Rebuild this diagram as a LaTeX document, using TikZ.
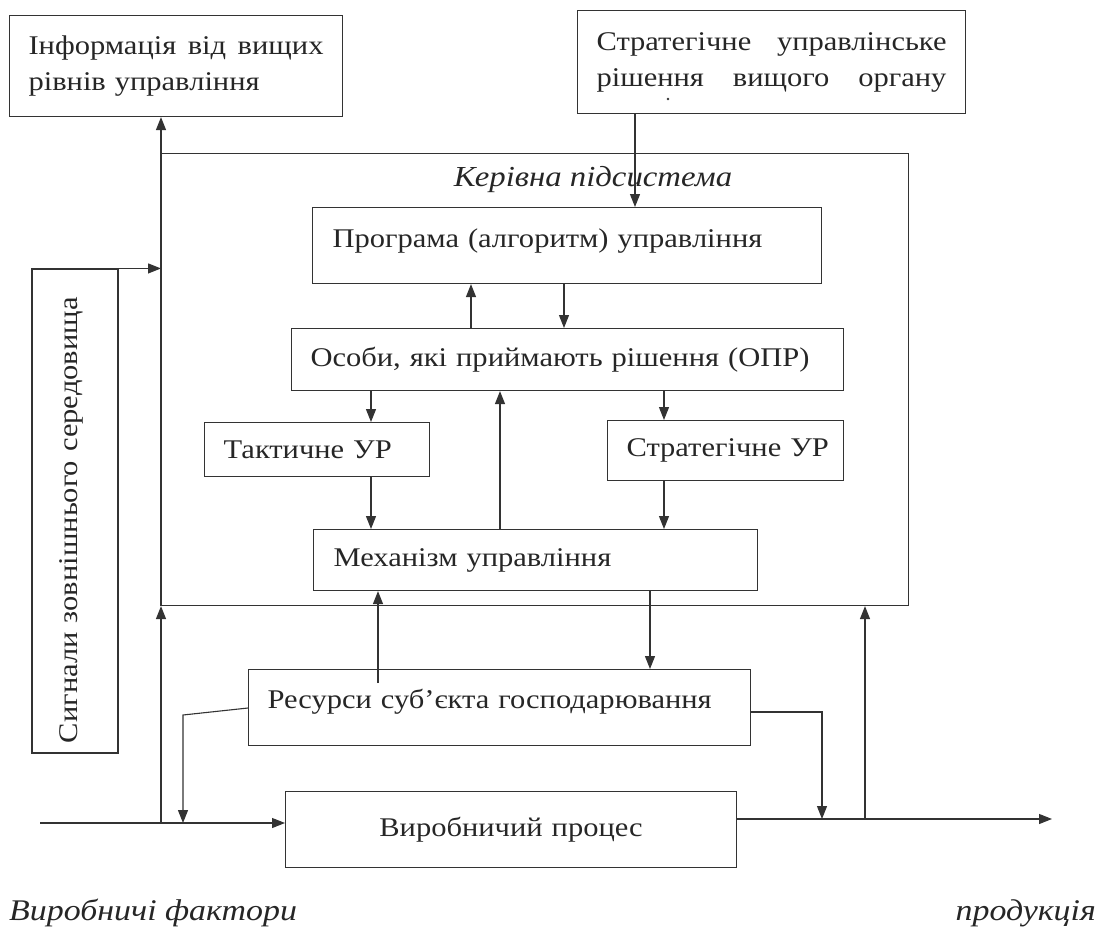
\documentclass[tikz,border=0pt]{standalone}
\usepackage{fontspec}
\setmainfont[FakeStretch=1.13]{Liberation Serif}
\usetikzlibrary{arrows.meta,calc}
\begin{document}
\begin{tikzpicture}[x=1pt,y=-1pt,
  box/.style={draw=black!80, line width=1.1pt, rectangle, anchor=north west,
    inner ysep=0pt, inner xsep=19pt, align=left, text=black!85,
    font=\fontsize{27}{36}\selectfont},
  arr/.style={draw=black!80, line width=1.1pt, -{Triangle[length=13pt,width=10pt]}},
  lbl/.style={text=black!85, inner sep=0pt}
]
\useasboundingbox (0,0) rectangle (1104,932);

% upper-level boxes
\node[box, minimum width=333, minimum height=101, text width=295] (info) at (9,15)
  {Інформація\hfill від\hfill вищих\\рівнів управління};
\node[box, minimum width=388, minimum height=103, text width=350, text depth=41pt] (strat) at (577,10)
  {Стратегічне\hfill управлінське\\рішення\hfill вищого\hfill органу};
\fill[black!80] (668,99) circle (1.3pt);

% control subsystem frame
\node[draw=black!80, line width=1.1pt, rectangle, anchor=north west, inner sep=0pt,
  minimum width=747, minimum height=452] (frame) at (161,153) {};
\node[lbl, font=\fontsize{29}{32}\selectfont\itshape] (title) at (593,180) {Керівна підсистема};

\node[box, inner xsep=20pt, minimum width=509, minimum height=76, text width=469, text depth=14pt] (prog) at (312,207)
  {Програма (алгоритм) управління};
\node[box, minimum width=552, minimum height=62, text width=514] (opr) at (291,328)
  {Особи, які приймають рішення (ОПР)};
\node[box, minimum width=225, minimum height=54, text width=187] (tact) at (204,422)
  {Тактичне~УР};
\node[box, minimum width=236, minimum height=60, text width=198] (strur) at (607,420)
  {\mbox{Стратегічне УР}};
\node[box, inner xsep=20pt, minimum width=444, minimum height=61, text width=404] (mech) at (313,529)
  {Механізм управління};

% lower boxes
\node[box, minimum width=502, minimum height=76, text width=464, text depth=18pt] (res) at (248,669)
  {Ресурси суб’єкта господарювання};
\node[box, align=center, minimum width=451, minimum height=76, text width=413] (proc) at (285,791)
  {Виробничий процес};

% environment signals (vertical box)
\node[box, anchor=center, rotate=90, inner xsep=10pt, minimum width=484, minimum height=86,
  text width=464, text depth=12pt] (sig) at (75,511)
  {Сигнали зовнішнього середовища};

% bottom labels
\node[lbl, anchor=west, font=\fontsize{30}{34}\selectfont\itshape] (fact) at (9,913) {Виробничі фактори};
\node[lbl, anchor=east, font=\fontsize{30}{34}\selectfont\itshape] (prod) at (1096,913) {продукція};

% main flow line
\coordinate (fin) at (40,823);
\coordinate (fout) at (1052,819);
\coordinate (j1) at (161,823);
\coordinate (rl) at (183,715);
\coordinate (rr) at (822,712);
\coordinate (j2) at (865,819);

\draw[arr] (fin) -- (fin -| proc.west);
\draw[arr] (proc.east |- fout) -- (fout);

% feedback to upper levels and into the frame
\draw[arr] (j1) -- (frame.south west);
\draw[arr] (frame.south west) -- (frame.south west |- info.south);
\draw[arr] (sig.south east) -- (sig.south east -| frame.west);
\draw[arr] (j2) -- (j2 |- frame.south);

% inside the control subsystem
\draw[arr] ([xshift=58]strat.south west) -- ([xshift=58]strat.south west |- prog.north);
\draw[arr] ([xshift=180]opr.north west) -- ([xshift=180]opr.north west |- prog.south);
\draw[arr] ([xshift=252]prog.south west) -- ([xshift=252]prog.south west |- opr.north);
\draw[arr] ([xshift=80]opr.south west) -- ([xshift=80]opr.south west |- tact.north);
\draw[arr] ([xshift=373]opr.south west) -- ([xshift=373]opr.south west |- strur.north);
\draw[arr] ([xshift=167]tact.south west) -- ([xshift=167]tact.south west |- mech.north);
\draw[arr] ([xshift=57]strur.south west) -- ([xshift=57]strur.south west |- mech.north);
\draw[arr] ([xshift=187]mech.north west) -- ([xshift=187]mech.north west |- opr.south);

% resources
\draw[arr] ([xshift=130,yshift=-14]res.north west) -- ([xshift=130]res.north west |- mech.south);
\draw[arr] ([xshift=337]mech.south west) -- ([xshift=337]mech.south west |- res.north);
\draw[arr] ([yshift=-39]res.north west) -- (rl) -- (rl |- fin);
\draw[arr] ([yshift=-43]res.north east) -- (rr) -- (rr |- fout);
\end{tikzpicture}
\end{document}
